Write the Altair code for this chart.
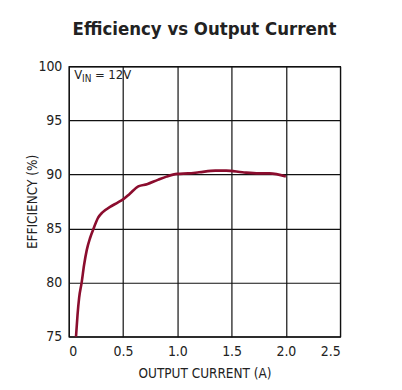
import altair as alt
import pandas as pd

current = [0.066, 0.08, 0.095, 0.118, 0.14, 0.165, 0.195, 0.228, 0.27, 0.31, 0.38, 0.45, 0.5, 0.56, 0.64, 0.72, 0.82, 0.9, 1.0, 1.1, 1.2, 1.35, 1.45, 1.6, 1.75, 1.85, 2.0]
efficiency = [75.0, 77.0, 78.6, 80.0, 81.6, 83.0, 84.1, 85.0, 86.0, 86.5, 87.0, 87.4, 87.7, 88.2, 88.9, 89.1, 89.5, 89.8, 90.05, 90.1, 90.2, 90.35, 90.35, 90.2, 90.1, 90.1, 89.8]

x_ticks = [0, 0.5, 1, 1.5, 2, 2.5]
y_ticks = [75, 80, 85, 90, 95, 100]

FONT = "DejaVu Sans Condensed, Roboto, sans-serif"
df = pd.DataFrame({"I": current, "E": efficiency})

x = alt.X("I:Q", scale=alt.Scale(domain=[0, 2.5], nice=False),
          axis=alt.Axis(values=x_ticks, title="OUTPUT CURRENT (A)", labelExpr="datum.value == 0 ? '0' : datum.label"))
y = alt.Y("E:Q", scale=alt.Scale(domain=[75, 100], nice=False, zero=False),
          axis=alt.Axis(values=y_ticks, title="EFFICIENCY (%)"))

line = alt.Chart(df).mark_line(color="#8B0D2E", strokeWidth=2.6, interpolate="monotone").encode(x=x, y=y)

ann = pd.DataFrame({"I": [0.05, 0.122, 0.24], "E": [98.85, 98.85, 98.85], "t": ["V", "IN", "= 12V"]})
t1 = alt.Chart(ann.iloc[[0, 2]]).mark_text(align="left", baseline="alphabetic", font=FONT, fontSize=13, color="#222").encode(
    x=alt.X("I:Q"), y=alt.Y("E:Q"), text="t:N")
t2 = alt.Chart(ann.iloc[[1]]).mark_text(align="left", baseline="alphabetic", font=FONT, fontSize=10, dy=3, color="#222").encode(
    x=alt.X("I:Q"), y=alt.Y("E:Q"), text="t:N")

chart = alt.layer(line, t1, t2).properties(
    width=272, height=271,
    title=alt.TitleParams("Efficiency vs Output Current", font=FONT, fontSize=18.5, fontWeight="bold", color="#222", offset=21, anchor="middle"),
    autosize=alt.AutoSizeParams(type="none"),
    padding={"left": 61, "top": 58, "right": 54, "bottom": 45},
).configure_view(stroke="#111", strokeWidth=1.2).configure_axis(
    grid=True, gridColor="#111", gridWidth=1.2, gridOpacity=1,
    domain=False, ticks=False, labelFont=FONT, labelFontSize=14, labelColor="#222",
    titleFont=FONT, titleFontSize=13.5, titleFontWeight="normal", titleColor="#222",
).configure_axisX(labelPadding=8, titlePadding=8).configure_axisY(labelPadding=7, titlePadding=-2)

chart.save("out.html", embed_options={"renderer": "svg", "actions": False})
